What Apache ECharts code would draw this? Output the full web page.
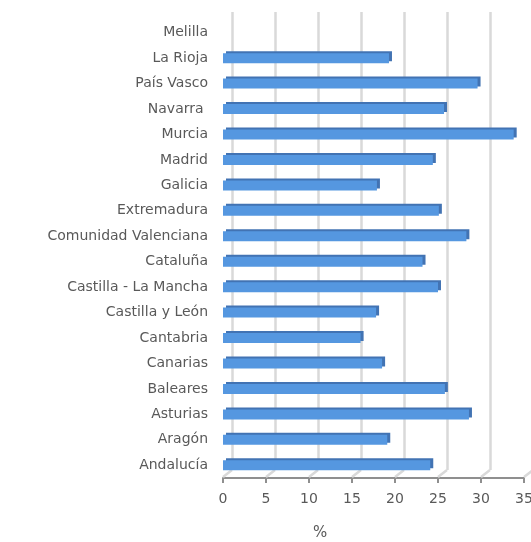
<!DOCTYPE html>
<html>
<head>
<meta charset="utf-8">
<script src="https://cdn.jsdelivr.net/npm/echarts@6/dist/echarts.min.js"></script>
<style>
html,body{margin:0;padding:0;background:#fff;}
#chart{width:531px;height:542px;}
</style>
</head>
<body>
<div id="chart"></div>
<script>
const categories = ['Andalucía','Aragón','Asturias','Baleares','Canarias','Cantabria','Castilla y León','Castilla - La Mancha','Cataluña','Comunidad Valenciana','Extremadura','Galicia','Madrid','Murcia','Navarra ','País Vasco','La Rioja','Melilla'];
const values = [24.1, 19.1, 28.6, 25.8, 18.5, 16.0, 17.8, 25.0, 23.2, 28.3, 25.1, 17.9, 24.4, 33.8, 25.7, 29.6, 19.3, null];
const ticks = [0, 5, 10, 15, 20, 25, 30, 35];
const axisName = '%';

const FONT = 'DejaVu Sans';
const chart = echarts.init(document.getElementById('chart'), null, {renderer: 'canvas'});
const DX = 9, DY = 8;
chart.setOption({
  animation: false,
  backgroundColor: '#ffffff',
  grid: [
    {left: 223, width: 301, top: 20, height: 458, outerBoundsMode: 'none', containLabel: false},
    {left: 223 + DX, width: 301, top: 12, height: 458, outerBoundsMode: 'none', containLabel: false}
  ],
  graphic: [
    {type: 'text', left: 313, top: 526, style: {text: axisName, fill: '#595959', font: '15px "' + FONT + '"'}}
  ],
  xAxis: [
    {
      gridIndex: 0, type: 'value', min: 0, max: 35, interval: 5,
      axisLine: {show: true, lineStyle: {color: '#8f8f8f', width: 2}},
      axisTick: {show: true, length: 5, lineStyle: {color: '#8f8f8f', width: 2}},
      axisLabel: {color: '#595959', fontSize: 14, fontFamily: FONT, margin: 14},
      splitLine: {show: false}
    },
    {
      gridIndex: 1, type: 'value', min: 0, max: 35, interval: 5,
      axisLine: {show: false}, axisTick: {show: false}, axisLabel: {show: false},
      splitLine: {show: true, lineStyle: {color: '#d9d9d9', width: 2.5}}
    }
  ],
  yAxis: [
    {
      gridIndex: 0, type: 'category', data: categories,
      axisLine: {show: false}, axisTick: {show: false},
      axisLabel: {color: '#595959', fontSize: 14, fontFamily: FONT, margin: 15}
    },
    {
      gridIndex: 1, type: 'category', data: categories, show: false
    }
  ],
  series: [
    {
      type: 'custom',
      xAxisIndex: 0, yAxisIndex: 0,
      z: 1,
      data: ticks,
      renderItem: function (params, api) {
        const v = api.value(0);
        const x = api.coord([v, 0])[0];
        const cs = params.coordSys;
        const y = cs.y + cs.height;
        return {
          type: 'line',
          shape: {x1: x, y1: y - 1, x2: x + DX, y2: y - DY},
          style: {stroke: '#d9d9d9', lineWidth: 2.5}
        };
      }
    },
    {
      type: 'bar',
      xAxisIndex: 0, yAxisIndex: 0,
      data: values,
      barWidth: 10,
      z: 3,
      itemStyle: {
        color: '#5597e0',
        shadowColor: '#4273b3',
        shadowOffsetX: 3,
        shadowOffsetY: -2,
        shadowBlur: 0
      }
    }
  ]
});
</script>
</body>
</html>
